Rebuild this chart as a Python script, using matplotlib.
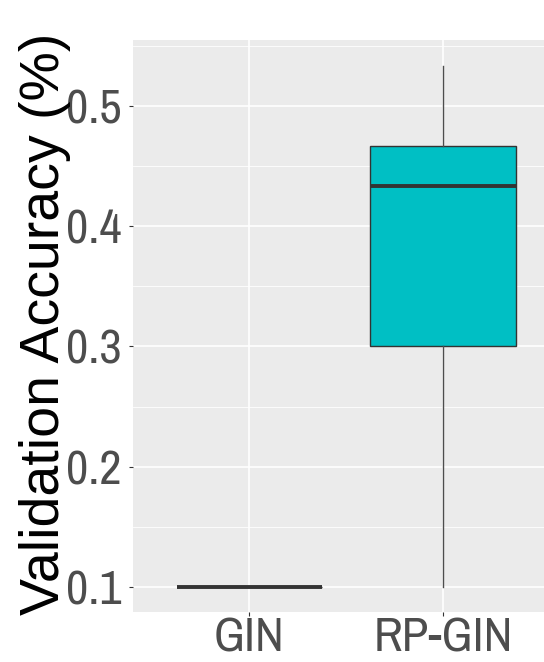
import matplotlib.pyplot as plt

# data
models = ['GIN', 'RP-GIN']
whislo = [0.1, 0.1]
q1 = [0.1, 0.30]
med = [0.1, 0.4335]
q3 = [0.1, 0.4667]
whishi = [0.1, 0.533]
fills = ['#F8766D', '#00BFC4']

narrow = ['Liberation Sans Narrow', 'Archivo Narrow', 'Roboto Condensed', 'DejaVu Sans']

fig = plt.figure(figsize=(5.44, 6.62), dpi=100)
ax = fig.add_axes([133/544, 50/662, 1 - 133/544, 572/662])
ax.set_facecolor('#EBEBEB')

# grid, ggplot style
for y in [0.15, 0.25, 0.35, 0.45, 0.55]:
    ax.axhline(y, color='white', lw=0.6, zorder=0)
for y in [0.1, 0.2, 0.3, 0.4, 0.5]:
    ax.axhline(y, color='white', lw=1.2, zorder=0)
for x in [1, 2]:
    ax.axvline(x, color='white', lw=1.2, zorder=0)

stats = []
for i, m in enumerate(models):
    stats.append(dict(label=m, whislo=whislo[i], q1=q1[i], med=med[i],
                      q3=q3[i], whishi=whishi[i], fliers=[]))

bp = ax.bxp(stats, positions=[1, 2], widths=0.75, patch_artist=True,
            showcaps=False,
            boxprops=dict(edgecolor='#333333', linewidth=1.0),
            whiskerprops=dict(color='#4D4D4D', linewidth=1.0),
            medianprops=dict(color='#333333', linewidth=2.8))
for patch, c in zip(bp['boxes'], fills):
    patch.set_facecolor(c)
# GIN box collapses to a line, so no fill shows
bp['boxes'][0].set_facecolor('none')

ax.set_xlim(0.4, 2.52)
ax.set_ylim(0.079, 0.555)
ax.set_yticks([0.1, 0.2, 0.3, 0.4, 0.5])
ax.set_yticklabels(['0.1', '0.2', '0.3', '0.4', '0.5'])
ax.set_xticks([1, 2])
ax.set_xticklabels(models)

for lab in ax.get_yticklabels() + ax.get_xticklabels():
    lab.set_fontfamily(narrow)
    lab.set_fontsize(35)
    lab.set_color('#4D4D4D')
ax.tick_params(length=3, width=0.8, color='#333333')
ax.tick_params(axis='y', pad=5)
ax.tick_params(axis='x', pad=0)

for s in ax.spines.values():
    s.set_visible(False)

fig.text(45/544, 1 - 324/662, 'Validation Accuracy (%)', rotation=90,
         ha='center', va='center', fontfamily='Liberation Sans',
         fontsize=40, color='black')

fig.savefig('out.png', dpi=100)
